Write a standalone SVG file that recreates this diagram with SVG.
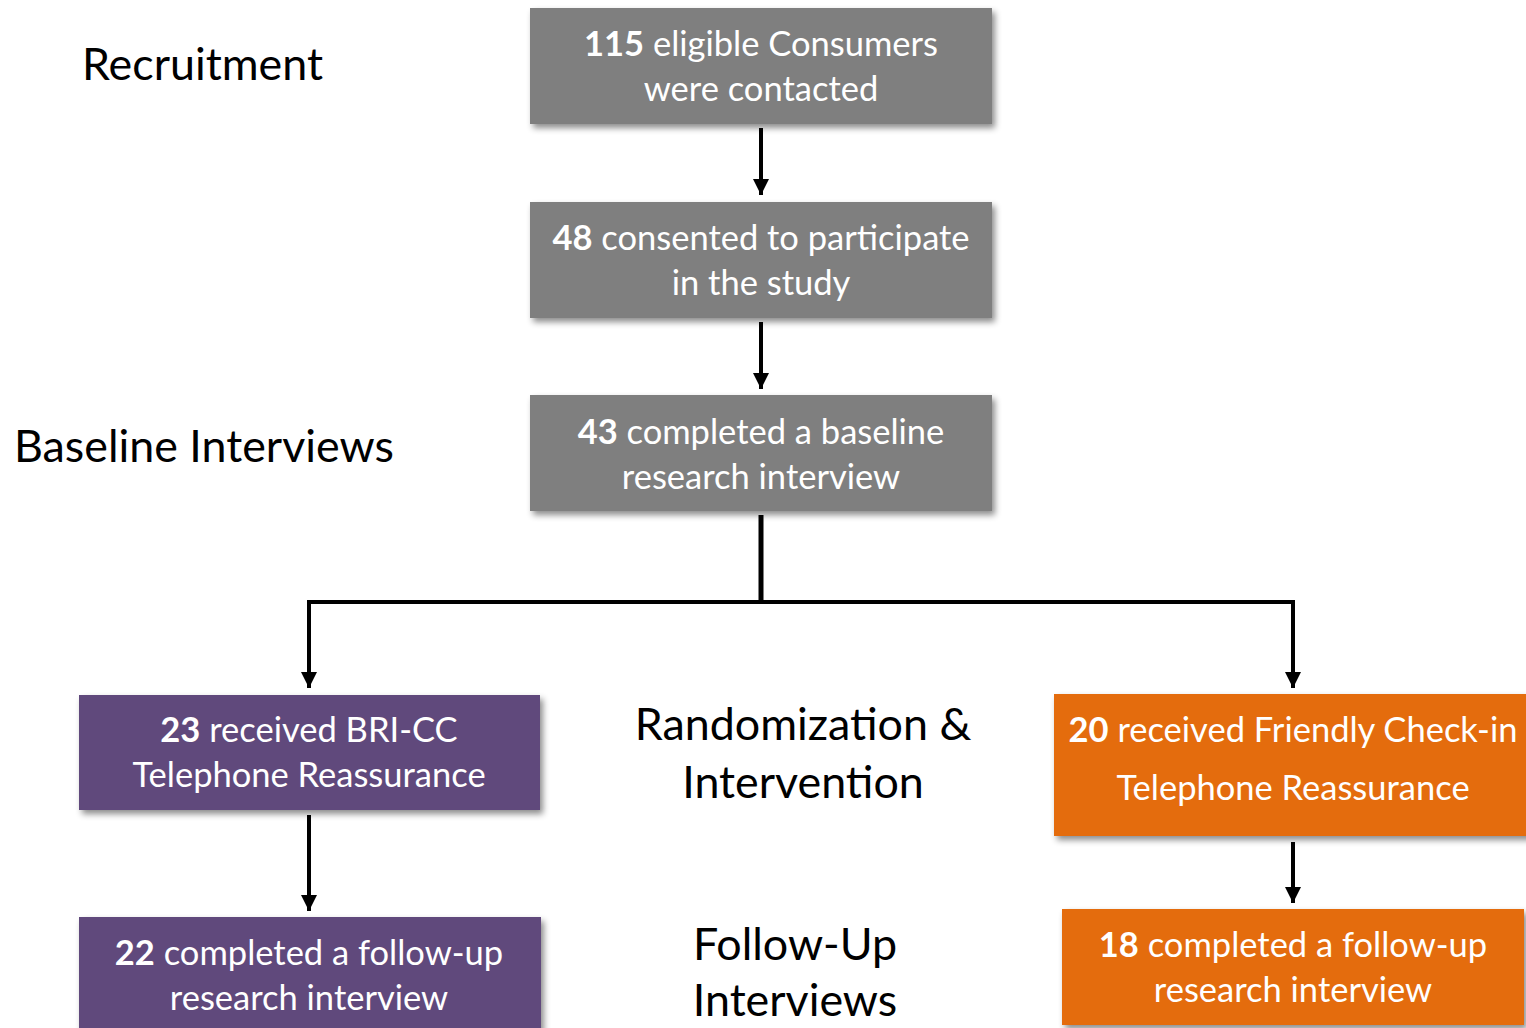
<svg xmlns="http://www.w3.org/2000/svg" width="1526" height="1028" viewBox="0 0 1526 1028">
<style>
.t{font-family:Lato,"Open Sans","Liberation Sans",sans-serif;fill:#fff;font-size:34.5px;text-anchor:middle}
.t tspan.b{font-weight:bold}
.lab{font-family:Lato,"Open Sans","Liberation Sans",sans-serif;fill:#000;font-size:44.8px}
.gray{fill:#7f7f7f}
.pur{fill:#604a7b}
.org{fill:#e46c0a}
.c{stroke:#000;stroke-width:4;fill:none}
</style>
<defs>
<filter id="sh" x="-5%" y="-10%" width="115%" height="130%">
<feDropShadow dx="3" dy="4" stdDeviation="3" flood-color="#000" flood-opacity="0.45"/>
</filter>
<marker id="ah" markerWidth="5" markerHeight="4" refX="4" refY="2" orient="auto" markerUnits="strokeWidth">
<path d="M0,0 L4,2 L0,4 Z" fill="#000"/>
</marker>
</defs>
<rect width="1526" height="1028" fill="#fff"/>
<text class="lab" x="82" y="80">Recruitment</text>
<text class="lab" x="14" y="462">Baseline Interviews</text>
<text class="lab" x="803" y="740" text-anchor="middle">Randomization &amp;</text>
<text class="lab" x="803" y="798" text-anchor="middle">Intervention</text>
<text class="lab" x="795" y="960" text-anchor="middle">Follow-Up</text>
<text class="lab" x="795" y="1016" text-anchor="middle">Interviews</text>
<g id="connectors">
<path class="c" d="M761,128 V195" marker-end="url(#ah)"/>
<path class="c" d="M761,322 V389" marker-end="url(#ah)"/>
<path class="c" d="M761,515 V602" style="stroke-width:5"/>
<path class="c" d="M1293,602 H309 V688" marker-end="url(#ah)"/>
<path class="c" d="M761,602 H1293 V688" marker-end="url(#ah)"/>
<path class="c" d="M309,815 V911" marker-end="url(#ah)"/>
<path class="c" d="M1293,842 V903" marker-end="url(#ah)"/>
</g>
<g id="n1"><rect class="gray" x="530" y="8" width="462" height="116" filter="url(#sh)"/>
<text class="t" x="761" y="56"><tspan class="b">115</tspan> eligible Consumers</text>
<text class="t" x="761" y="101">were contacted</text></g>
<g id="n2"><rect class="gray" x="530" y="202" width="462" height="116" filter="url(#sh)"/>
<text class="t" x="761" y="250"><tspan class="b">48</tspan> consented to participate</text>
<text class="t" x="761" y="295">in the study</text></g>
<g id="n3"><rect class="gray" x="530" y="395" width="462" height="116" filter="url(#sh)"/>
<text class="t" x="761" y="444"><tspan class="b">43</tspan> completed a baseline</text>
<text class="t" x="761" y="489">research interview</text></g>
<g id="n4"><rect class="pur" x="79" y="695" width="461" height="115" filter="url(#sh)"/>
<text class="t" x="309" y="742"><tspan class="b">23</tspan> received BRI-CC</text>
<text class="t" x="309" y="787">Telephone Reassurance</text></g>
<g id="n5"><rect class="pur" x="79" y="917" width="462" height="120" filter="url(#sh)"/>
<text class="t" x="309" y="965"><tspan class="b">22</tspan> completed a follow-up</text>
<text class="t" x="309" y="1010">research interview</text></g>
<g id="n6"><rect class="org" x="1054" y="694" width="480" height="142" filter="url(#sh)"/>
<text class="t" x="1293" y="742"><tspan class="b">20</tspan> received Friendly Check-in</text>
<text class="t" x="1293" y="800">Telephone Reassurance</text></g>
<g id="n7"><rect class="org" x="1062" y="909" width="462" height="116" filter="url(#sh)"/>
<text class="t" x="1293" y="957"><tspan class="b">18</tspan> completed a follow-up</text>
<text class="t" x="1293" y="1002">research interview</text></g>
</svg>
